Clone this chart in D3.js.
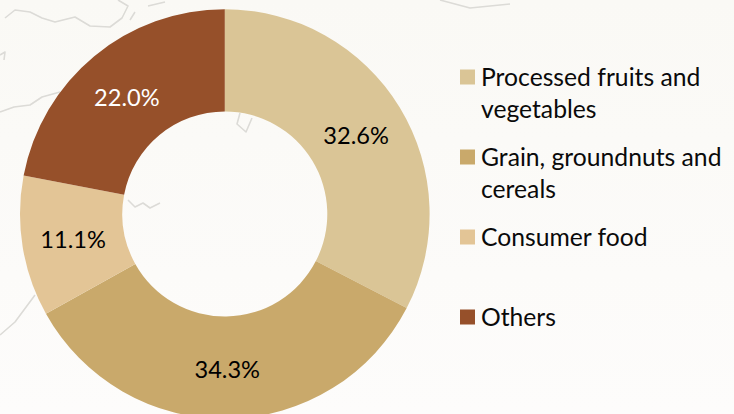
<!DOCTYPE html>
<html><head><meta charset="utf-8">
<script src="https://cdn.jsdelivr.net/npm/d3@7/dist/d3.min.js"></script>
<style>html,body{margin:0;padding:0;background:#fbfaf7}svg{display:block}text{font-family:Lato,"Open Sans",sans-serif}</style>
</head><body><svg id="c" width="734" height="414"></svg>
<script>
const categories = [["Processed fruits and","vegetables"],["Grain, groundnuts and","cereals"],["Consumer food"],["Others"]];
const shares = [32.6, 34.3, 11.1, 22.0];
const colors = ["#dac596","#c9a96b","#e3c596","#96502a"];
const labelColors = ["#000","#000","#000","#fff"];
const legendRows = [77, 157, 237, 317];
const mapLines = [
 "M5 18L15 10L30 12L42 18L55 22L75 17L90 26L110 27L122 18L128 6L118 0",
 "M0 112L14 107L30 105L42 97L60 92",
 "M148 6L165 2M130 20L135 12",
 "M0 55L5 52L4 60",
 "M0 335L15 322L35 295",
 "M240 113L237 124L246 132L252 118",
 "M128 200L135 207L143 203L150 208L160 203",
 "M440 0L470 8L510 4"
];
const svg = d3.select("#c");
const defs = svg.append("defs");
const grad = defs.append("linearGradient").attr("id","bg").attr("x1",0).attr("x2",0).attr("y1",0).attr("y2",1);
grad.append("stop").attr("offset",0).attr("stop-color","#faf9f5");
grad.append("stop").attr("offset",1).attr("stop-color","#fdfcfb");
defs.append("filter").attr("id","soft").append("feGaussianBlur").attr("stdDeviation",0.7);
svg.append("rect").attr("width",734).attr("height",414).attr("fill","url(#bg)");
svg.append("g").attr("filter","url(#soft)").selectAll("path").data(mapLines).join("path").attr("d",d=>d)
  .attr("fill","none").attr("stroke","#dcdbd7").attr("stroke-width",1.6).attr("stroke-linejoin","round");
const cx=224.8, cy=214, R=204.8, r=102.5;
const pie=d3.pie().sort(null).value(d=>d);
const arc=d3.arc().innerRadius(r).outerRadius(R);
const labelArc=d3.arc().innerRadius((R+r)/2).outerRadius((R+r)/2);
const g=svg.append("g").attr("transform",`translate(${cx},${cy})`);
const arcs=pie(shares);
g.selectAll("path").data(arcs).join("path").attr("d",arc).attr("fill",(d,i)=>colors[i]);
g.selectAll("text").data(arcs).join("text")
 .attr("transform",d=>`translate(${labelArc.centroid(d)})`)
 .attr("text-anchor","middle").attr("dy","0.42em").attr("font-size",23.6)
 .attr("fill",(d,i)=>labelColors[i]).text(d=>d3.format(".1f")(d.data)+"%");
const lg=svg.append("g").selectAll("g").data(categories).join("g").attr("transform",(d,i)=>`translate(460,${legendRows[i]})`);
lg.append("rect").attr("y",-7.5).attr("width",15).attr("height",15).attr("fill",(d,i)=>colors[i]);
lg.each(function(d){
  const t=d3.select(this).append("text").attr("font-size",24.7).attr("fill","#0a0a0a");
  d.forEach((s,j)=>t.append("tspan").attr("x",21).attr("y",9+j*32).text(s));
});
</script></body></html>
